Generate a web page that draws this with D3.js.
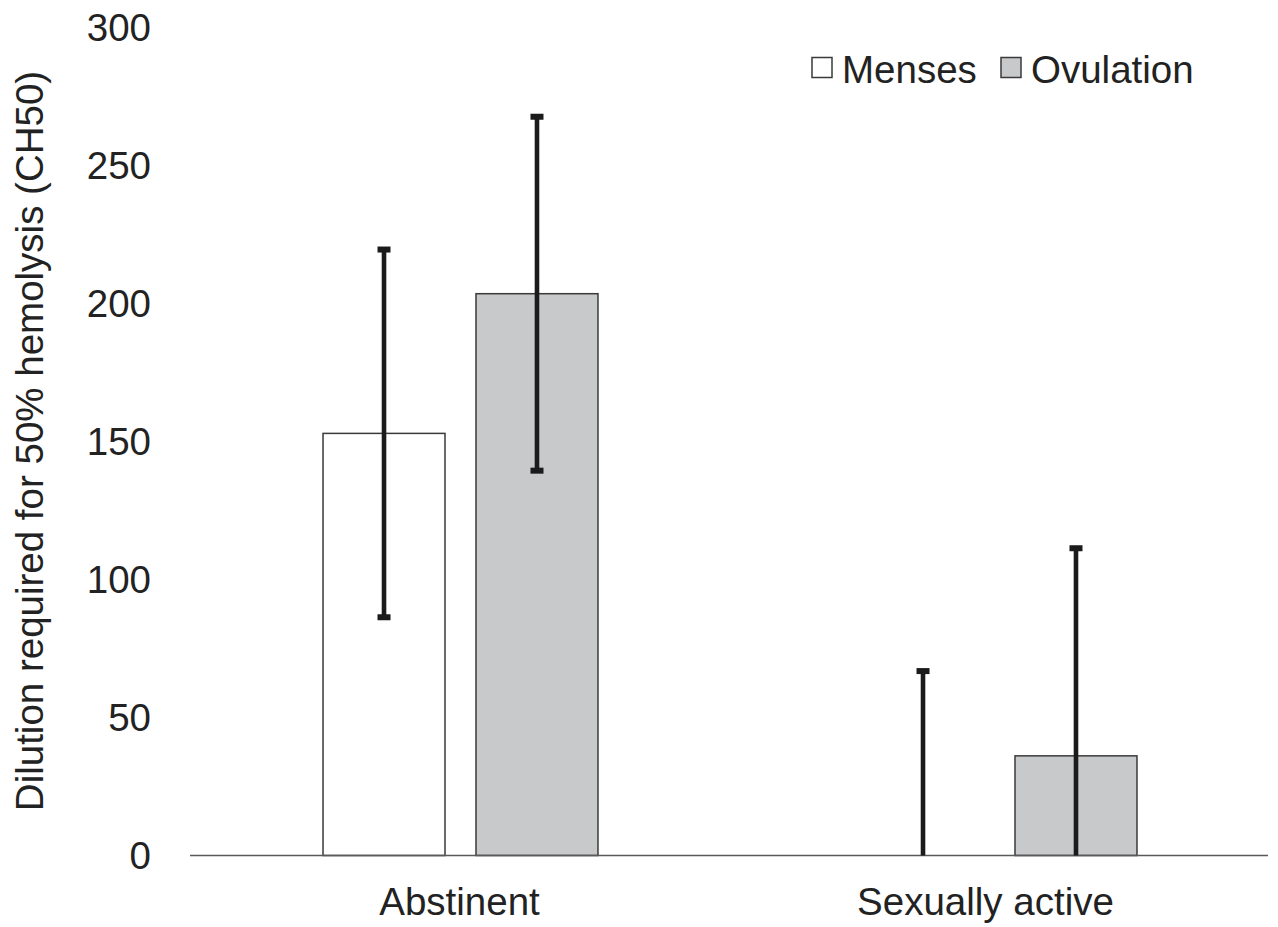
<!DOCTYPE html>
<html>
<head>
<meta charset="utf-8">
<script src="https://cdn.jsdelivr.net/npm/d3@7"></script>
<style>
  html, body { margin: 0; padding: 0; background: #fff; }
  svg { display: block; }
  text { font-family: "Liberation Sans", Arial, Helvetica, sans-serif; fill: #222; }
</style>
</head>
<body>
<svg id="chart" width="1278" height="927"></svg>
<script>
// ---- data ----
const categories = ["Abstinent", "Sexually active"];
const seriesNames = ["Menses", "Ovulation"];
const mensesValues = [152.9, 0];
const ovulationValues = [203.5, 36.1];
const mensesErrors = [66.6, 66.8];
const ovulationErrors = [64.1, 75.2];
const yTicks = [0, 50, 100, 150, 200, 250, 300];
const yLabel = "Dilution required for 50% hemolysis (CH50)";

const seriesFill = { "Menses": "#ffffff", "Ovulation": "#c8c9cb" };

const rows = [];
categories.forEach((c, i) => {
  rows.push({ cat: c, series: "Menses", value: mensesValues[i], err: mensesErrors[i] });
  rows.push({ cat: c, series: "Ovulation", value: ovulationValues[i], err: ovulationErrors[i] });
});

const svg = d3.select("#chart");
const plotLeft = 190, plotRight = 1268, plotTop = 27.3, plotBottom = 855.5;
const fs = 38.5;

const x = d3.scaleBand().domain(categories).range([plotLeft, plotRight]).padding(0);
const xs = d3.scaleBand().domain(seriesNames).range([0, x.bandwidth()])
  .paddingInner(0.2026).paddingOuter(0.863);
const y = d3.scaleLinear().domain([0, 300]).range([plotBottom, plotTop]);

// bars
svg.append("g").selectAll("rect").data(rows).join("rect")
  .attr("x", d => x(d.cat) + xs(d.series) + 1)
  .attr("y", d => y(d.value))
  .attr("width", xs.bandwidth())
  .attr("height", d => y(0) - y(d.value))
  .attr("fill", d => seriesFill[d.series])
  .attr("stroke", d => d.value > 0 ? "#3a3a3a" : "none")
  .attr("stroke-width", 1.5);

// x axis line
svg.append("line")
  .attr("x1", plotLeft).attr("x2", plotRight)
  .attr("y1", y(0)).attr("y2", y(0))
  .attr("stroke", "#5a5a5a").attr("stroke-width", 1.6);

// error bars
const eg = svg.append("g");
rows.forEach(d => {
  const cx = x(d.cat) + xs(d.series) + xs.bandwidth() / 2 + 1;
  const hi = d.value + d.err;
  const lo = Math.max(0, d.value - d.err);
  eg.append("line")
    .attr("x1", cx).attr("x2", cx)
    .attr("y1", y(hi)).attr("y2", y(lo))
    .attr("stroke", "#1b1b1b").attr("stroke-width", 4.6);
  eg.append("rect")
    .attr("x", cx - 6.5).attr("y", y(hi) - 3)
    .attr("width", 13).attr("height", 6)
    .attr("fill", "#1b1b1b");
  if (d.value - d.err > 0) {
    eg.append("rect")
      .attr("x", cx - 6.5).attr("y", y(lo) - 3)
      .attr("width", 13).attr("height", 6)
      .attr("fill", "#1b1b1b");
  }
});

// y tick labels
svg.append("g").selectAll("text").data(yTicks).join("text")
  .attr("x", 151)
  .attr("y", d => y(d))
  .attr("dy", "0.36em")
  .attr("text-anchor", "end")
  .attr("font-size", fs)
  .text(d => d);

// x category labels
const labelShift = [0, -13];
svg.append("g").selectAll("text").data(categories).join("text")
  .attr("x", (d, i) => x(d) + x.bandwidth() / 2 + labelShift[i])
  .attr("y", 915)
  .attr("text-anchor", "middle")
  .attr("font-size", fs)
  .text(d => d);

// y axis title
svg.append("text")
  .attr("transform", "translate(43,441) rotate(-90)")
  .attr("text-anchor", "middle")
  .attr("font-size", fs)
  .text(yLabel);

// legend
const legendX = [812, 1001];
const lg = svg.append("g");
seriesNames.forEach((s, i) => {
  lg.append("rect")
    .attr("x", legendX[i]).attr("y", 57.5)
    .attr("width", 20).attr("height", 20)
    .attr("fill", seriesFill[s])
    .attr("stroke", "#3a3a3a").attr("stroke-width", 1.5);
  lg.append("text")
    .attr("x", legendX[i] + 30).attr("y", 82.5)
    .attr("font-size", fs)
    .text(s);
});
</script>
</body>
</html>
